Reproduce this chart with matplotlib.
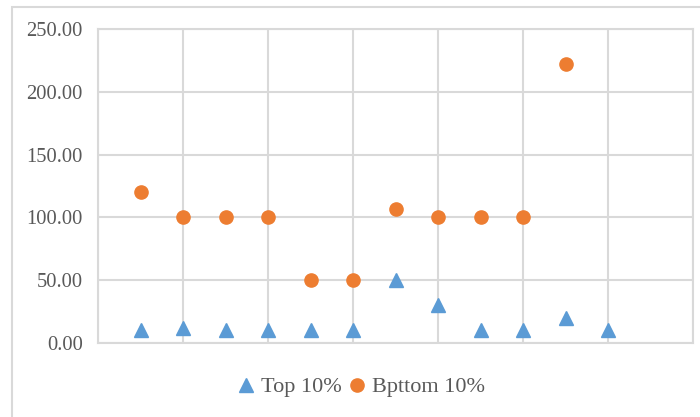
import matplotlib.pyplot as plt
from matplotlib.patches import Rectangle
from matplotlib.lines import Line2D

plt.rcParams['font.family'] = ['Liberation Serif', 'DejaVu Serif']

# Scores for each group, in order
top_x = [1, 2, 3, 4, 5, 6, 7, 8, 9, 10, 11, 12]
top_vals = [10, 12, 10, 10, 10, 10, 50, 30, 10, 10, 20, 10]
bottom_x = [1, 2, 3, 4, 5, 6, 7, 8, 9, 10, 11]
bottom_vals = [120, 100, 100, 100, 50, 50, 106.67, 100, 100, 100, 222]

blue = '#5B9BD5'
orange = '#ED7D31'
grid = '#D9D9D9'
txt = '#595959'

W, H = 700, 417
fig = plt.figure(figsize=(7.0, 4.17), dpi=100)
ax = fig.add_axes([98 / W, 1 - 343 / H, (693 - 98) / W, (343 - 29) / H])

# outer chart border
fig.patches.append(Rectangle((12 / W, -0.1), 1.2, 1 - 7 / H + 0.1,
                             transform=fig.transFigure, fill=False,
                             edgecolor=grid, lw=1.5))

ax.plot(top_x, top_vals, ls='none', marker='^', ms=10, color=blue,
        mec=blue, zorder=3, label='Top 10%')
ax.plot(bottom_x, bottom_vals, ls='none', marker='o', ms=9.5, color=orange,
        mec=orange, zorder=3, label='Bpttom 10%')

ax.set_xlim(0, 14)
ax.set_ylim(0, 250)
ax.set_xticks(range(0, 15, 2))
ax.set_yticks(range(0, 251, 50))
ax.set_xticklabels([])
ax.set_yticklabels(['%.2f' % v for v in range(0, 251, 50)])
ax.tick_params(length=0, labelsize=14.8, labelcolor=txt, pad=11)
ax.grid(True, color=grid, lw=1.5)
ax.set_axisbelow(True)
for s in ax.spines.values():
    s.set_color(grid)
    s.set_linewidth(1.5)

handles = [Line2D([], [], ls='none', marker='^', ms=10, color=blue),
           Line2D([], [], ls='none', marker='o', ms=9.5, color=orange)]
fig.legend(handles, ['Top 10%', 'Bpttom 10%'], loc='center',
           bbox_to_anchor=(360 / W, 1 - 387 / H), ncol=2, frameon=False,
           fontsize=16, labelcolor=txt, handletextpad=0.2,
           columnspacing=0.15, handlelength=1.0)

fig.savefig('out.png', dpi=100)
